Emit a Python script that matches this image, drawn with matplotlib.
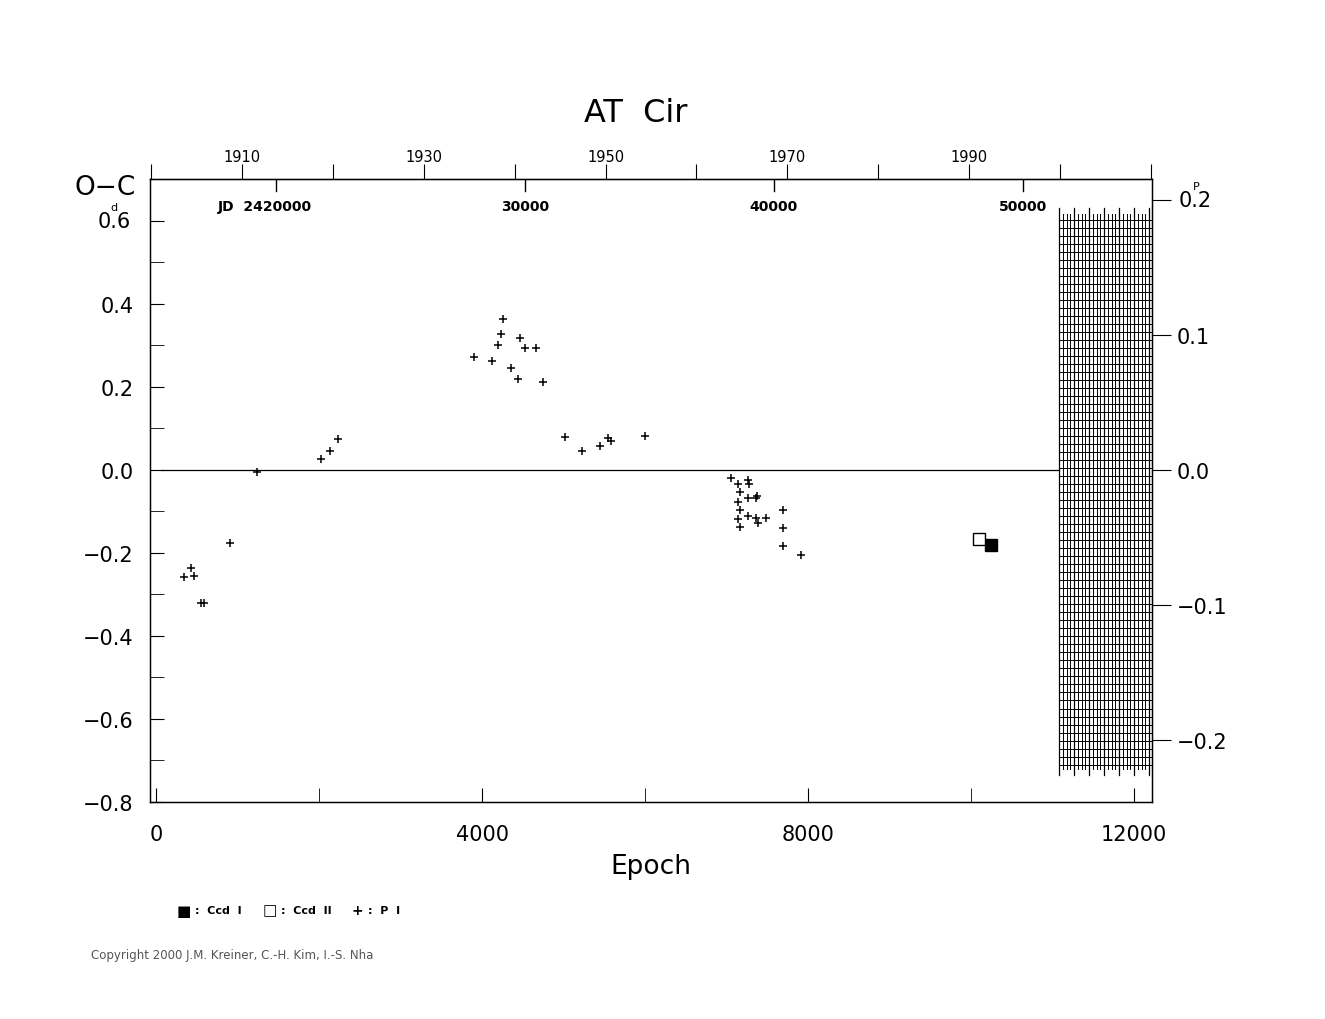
import numpy as np
import matplotlib.pyplot as plt

PERIOD = 0.3074

plate_e = [343, 429, 466, 551, 588, 907, 1238, 2022, 2132, 2230, 3897, 4118, 4191, 4228,
           4252, 4350, 4436, 4461, 4522, 4657, 4743, 5012, 5221, 5453, 5551, 5588, 6005,
           7050, 7135, 7258, 7270, 7160, 7258, 7356, 7368, 7135, 7160, 7258, 7356, 7380,
           7490, 7135, 7160, 7687, 7687, 7687, 7908]
plate_oc = [-0.258, -0.236, -0.255, -0.320, -0.320, -0.176, -0.005, 0.027, 0.046, 0.075,
            0.272, 0.263, 0.301, 0.328, 0.364, 0.246, 0.219, 0.316, 0.294, 0.292, 0.212,
            0.080, 0.046, 0.058, 0.077, 0.070, 0.082,
            -0.019, -0.034, -0.024, -0.034, -0.053, -0.067, -0.067, -0.063, -0.077,
            -0.096, -0.111, -0.116, -0.128, -0.116, -0.118, -0.137, -0.096, -0.140,
            -0.183, -0.205]
ccd1_e = [10245]
ccd1_oc = [-0.181]
ccd2_e = [10098]
ccd2_oc = [-0.166]

year_labels = [1910, 1930, 1950, 1970, 1990]
jd_labels = [20000, 30000, 40000, 50000]


def year_to_epoch(y):
    return -60 + (y - 1900) * 111.5


def jd_to_epoch(j):
    return 1470 + (j - 20000) * 0.3056


fig = plt.figure(figsize=(13.25, 10.2), dpi=100)
ax = fig.add_axes([150 / 1325, 217 / 1020, 1002 / 1325, 623 / 1020])
xmin, xmax = -74, 12220
ymin, ymax = -0.8, 0.70
ax.set_xlim(xmin, xmax)
ax.set_ylim(ymin, ymax)
for s in ax.spines.values():
    s.set_linewidth(1.0)

# hatched grid region
gx0, gx1 = 11080, xmax
gy0, gy1 = -0.72, 0.615
for xv in np.arange(gx0, gx1, 46):
    ax.plot([xv, xv], [gy0, gy1], color="black", lw=0.7)
for yv in np.arange(gy0 + 0.01, gy1, 0.0193):
    ax.plot([gx0, gx1], [yv, yv], color="black", lw=0.7)
for xv in np.arange(gx0, gx1, 184):
    ax.plot([xv, xv], [gy0 - 0.015, gy1 + 0.015], color="black", lw=0.9)

ax.plot([60, 11080], [0, 0], color="black", lw=0.9)

ax.plot(plate_e, plate_oc, "+", color="black", ms=6, mew=1.1)
ax.plot(ccd1_e, ccd1_oc, "s", color="black", ms=8)
ax.plot(ccd2_e, ccd2_oc, "s", mfc="white", mec="black", ms=8, mew=1.0)

# bottom axis
ax.set_xticks(np.arange(0, 12001, 4000))
ax.set_xticks(np.arange(0, 12001, 2000), minor=True)
ax.tick_params(axis="x", which="both", direction="in", length=10, labelsize=15, pad=16)
ax.set_xlabel("Epoch", fontsize=19, labelpad=6)

# left axis
ax.set_yticks(np.arange(-0.8, 0.61, 0.2))
ax.set_yticks(np.arange(-0.8, 0.61, 0.1), minor=True)
ax.tick_params(axis="y", which="major", direction="in", length=10, labelsize=15, right=True, pad=12)
ax.tick_params(axis="y", which="minor", direction="in", length=10, right=True)
labs = ["\u22120.8", "\u22120.6", "\u22120.4", "\u22120.2", "0.0", "0.2", "0.4", ""]
ax.set_yticklabels(labs)
ax.text(-0.019, 0.6, "0.6", transform=ax.get_yaxis_transform(), ha="right", va="center", fontsize=15)
ax.text(-0.036, 0.633, "d", transform=ax.get_yaxis_transform(), ha="center", va="center", fontsize=8)
fig.text(75 / 1325, 1 - 188 / 1020, "O\u2212C", fontsize=19, va="center")

# right axis (phase units)
axr = ax.twinx()
axr.set_ylim(ymin * PERIOD, ymax * PERIOD)
axr.set_yticks([-0.2, -0.1, 0.0, 0.1, 0.2])
axr.set_yticklabels(["\u22120.2", "\u22120.1", "0.0", "0.1", ""])
axr.tick_params(axis="y", direction="out", length=14, labelsize=15, pad=4)
axr.text(1.027, 0.2, "0.2", transform=axr.get_yaxis_transform(), ha="left", va="center", fontsize=15)
axr.text(1.044, 0.206, "P", transform=axr.get_yaxis_transform(), ha="center", va="bottom", fontsize=8)

# top axes: years outside, JD inside
axt = ax.secondary_xaxis("top")
axt.set_xticks([year_to_epoch(y) for y in range(1900, 2011, 10)])
axt.set_xticklabels([str(y) if y in year_labels else "" for y in range(1900, 2011, 10)])
axt.tick_params(direction="out", length=11, labelsize=10.5, pad=0)
for j in jd_labels:
    xe = jd_to_epoch(j)
    ax.plot([xe, xe], [ymax, ymax - 0.028], color="black", lw=1.0)
    lab = "JD  2420000" if j == 20000 else str(j)
    ax.text(xe - (140 if j == 20000 else 0), ymax - 0.065, lab, ha="center", va="center",
            fontsize=10, fontweight="bold")

fig.text(636 / 1325, 1 - 113 / 1020, "AT  Cir", fontsize=23, ha="center", va="center")

# legend
ly = 1 - 911 / 1020
fig.text(184 / 1325, ly, "\u25A0", fontsize=11, ha="center", va="center")
fig.text(195 / 1325, ly, ":  Ccd  I", fontsize=8, fontweight="bold", va="center")
fig.text(270 / 1325, ly, "\u25A1", fontsize=11, ha="center", va="center")
fig.text(281 / 1325, ly, ":  Ccd  II", fontsize=8, fontweight="bold", va="center")
fig.text(357 / 1325, ly, "+", fontsize=10, ha="center", va="center", fontweight="bold")
fig.text(368 / 1325, ly, ":  P  I", fontsize=8, fontweight="bold", va="center")
fig.text(91 / 1325, 1 - 956 / 1020, "Copyright 2000 J.M. Kreiner, C.-H. Kim, I.-S. Nha",
         fontsize=8.5, color="#555555", va="center")

fig.savefig("out.png", dpi=100)
